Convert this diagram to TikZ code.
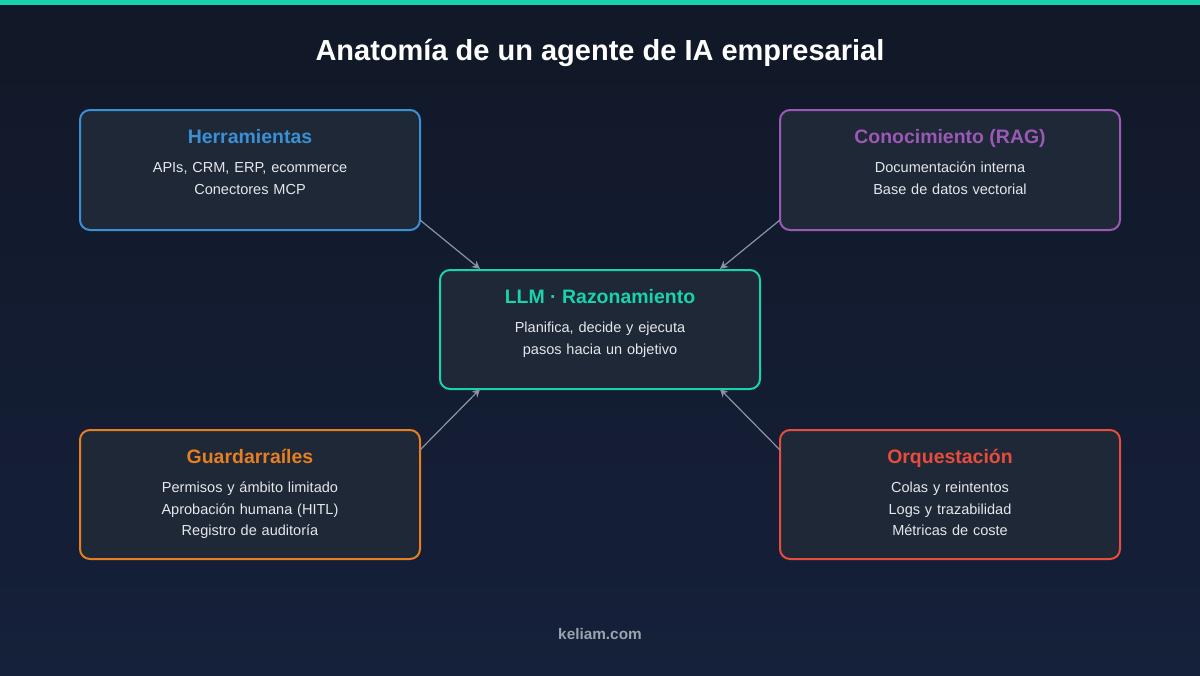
\documentclass[tikz,border=0pt]{standalone}
\usepackage{fontspec}
\setmainfont{Liberation Sans}
\usetikzlibrary{arrows.meta, positioning, calc}

\definecolor{bgdark}{HTML}{111827}
\definecolor{bgblue}{HTML}{15203A}
\definecolor{cardfill}{HTML}{1F2837}
\definecolor{accent}{HTML}{19D3AC}
\definecolor{toolblue}{HTML}{3A90D4}
\definecolor{ragpurple}{HTML}{9B59B6}
\definecolor{guardorange}{HTML}{E67E22}
\definecolor{orqred}{HTML}{E74C3C}
\definecolor{bodytext}{HTML}{E5E7EB}
\definecolor{linkgray}{HTML}{8A94A3}
\definecolor{footgray}{HTML}{9CA3AF}

\begin{document}
\begin{tikzpicture}[x=0.75pt, y=-0.75pt, >={Stealth[length=6pt, width=6pt]},
  card/.style={draw=#1, line width=1.5pt, fill=cardfill, rounded corners=7.5pt,
    minimum width=255pt, outer sep=0pt},
  cardtitle/.style={text=#1, font=\fontsize{14.6}{17}\selectfont\bfseries, anchor=base},
  cardbody/.style={text=bodytext, font=\fontsize{10.9}{16.1}\selectfont,
    anchor=base, align=center, text width=240pt},
  link/.style={->, draw=linkgray, line width=0.9pt}]
  % Background and top bar
  \shade[top color=bgdark, bottom color=bgblue] (0,0) rectangle (1200,675);
  \fill[accent] (0,0) rectangle (1200,5);
  \node[font=\fontsize{21.75}{26}\selectfont\bfseries, text=white, anchor=base] (title)
    at (600,60) {Anatomía de un agente de IA empresarial};

  % Cards
  \node[card=toolblue, minimum height=90pt] (herr) at (250,170) {};
  \node[card=ragpurple, minimum height=90pt] (rag) at (950,170) {};
  \node[card=accent, minimum width=240pt, minimum height=89.25pt] (llm) at (600,329.5) {};
  \node[card=guardorange, minimum height=96.75pt] (guard) at (250,494.5) {};
  \node[card=orqred, minimum height=96.75pt] (orq) at (950,494.5) {};

  % Card texts
  \node[cardtitle=toolblue] (herr-t) at ([yshift=-25.1pt]herr.north) {Herramientas};
  \node[cardbody] (herr-b) at ([yshift=-46.9pt]herr.north)
    {APIs, CRM, ERP, ecommerce\\Conectores MCP};
  \node[cardtitle=ragpurple] (rag-t) at ([yshift=-25.1pt]rag.north) {Conocimiento (RAG)};
  \node[cardbody] (rag-b) at ([yshift=-46.9pt]rag.north)
    {Documentación interna\\Base de datos vectorial};
  \node[cardtitle=accent] (llm-t) at ([yshift=-25.1pt]llm.north) {LLM · Razonamiento};
  \node[cardbody] (llm-b) at ([yshift=-46.9pt]llm.north)
    {Planifica, decide y ejecuta\\pasos hacia un objetivo};
  \node[cardtitle=guardorange] (guard-t) at ([yshift=-25.1pt]guard.north) {Guardarraíles};
  \node[cardbody] (guard-b) at ([yshift=-46.9pt]guard.north)
    {Permisos y ámbito limitado\\Aprobación humana (HITL)\\Registro de auditoría};
  \node[cardtitle=orqred] (orq-t) at ([yshift=-25.1pt]orq.north) {Orquestación};
  \node[cardbody] (orq-b) at ([yshift=-46.9pt]orq.north)
    {Colas y reintentos\\Logs y trazabilidad\\Métricas de coste};

  % Links into the LLM
  \draw[link] ([yshift=7.5pt]herr.south east) -- ([xshift=30pt, yshift=0.8pt]llm.north west);
  \draw[link] ([yshift=7.5pt]rag.south west) -- ([xshift=-30pt, yshift=0.8pt]llm.north east);
  \draw[link] ([yshift=-15pt]guard.north east) -- ([xshift=30pt]llm.south west);
  \draw[link] ([yshift=-15pt]orq.north west) -- ([xshift=-30pt]llm.south east);

  % Footer
  \node[font=\fontsize{11.5}{14}\selectfont\bfseries, text=footgray, anchor=base] (site)
    at (600,639) {keliam.com};
\end{tikzpicture}
\end{document}
